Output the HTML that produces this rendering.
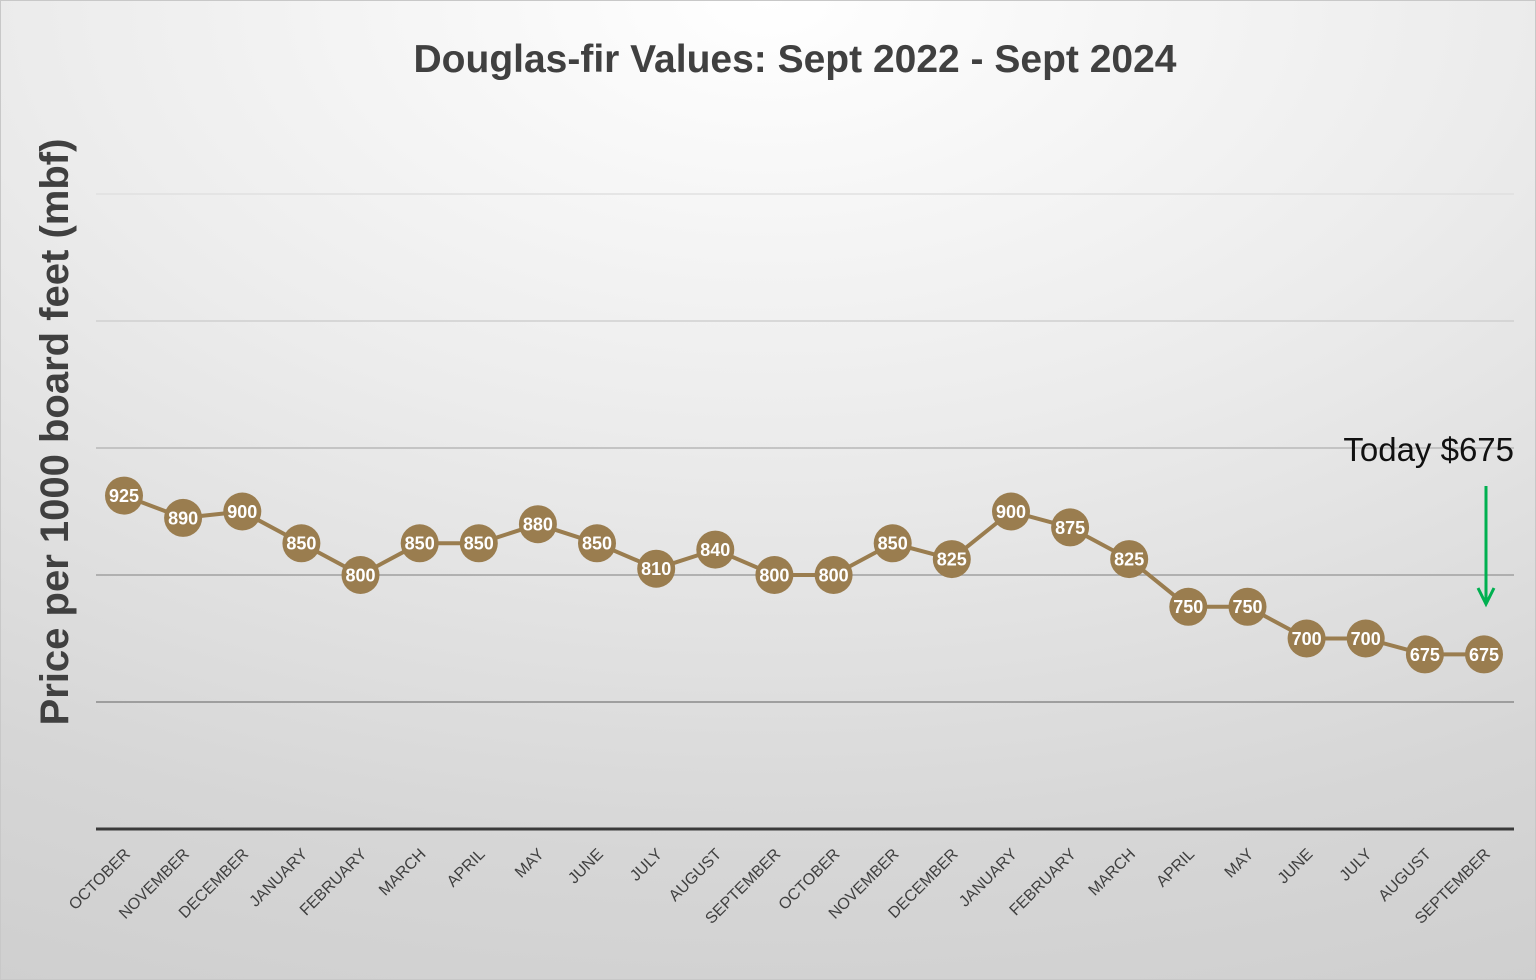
<!DOCTYPE html>
<html><head><meta charset="utf-8"><style>
html,body{margin:0;padding:0;width:1536px;height:980px;overflow:hidden}
body{background:radial-gradient(ellipse 120% 110% at 50% 0%,#ffffff 0%,#ececec 40%,#d6d6d6 80%,#cfcfcf 100%);font-family:"Liberation Sans",sans-serif}
svg{position:absolute;left:0;top:0}
</style></head><body>
<svg width="1536" height="980" viewBox="0 0 1536 980" xmlns="http://www.w3.org/2000/svg">
<rect x="0.5" y="0.5" width="1535" height="979" fill="none" stroke="#c8c8c8"/>
<text x="795" y="72" text-anchor="middle" font-size="39" font-weight="bold" fill="#404040">Douglas-fir Values: Sept 2022 - Sept 2024</text>
<text transform="translate(68,432) rotate(-90)" text-anchor="middle" font-size="40" font-weight="bold" fill="#404040">Price per 1000 board feet (mbf)</text>
<g stroke-width="1.5">
<line x1="96" y1="194" x2="1514" y2="194" stroke="#e0e0e0"/>
<line x1="96" y1="321" x2="1514" y2="321" stroke="#cfcfcf"/>
<line x1="96" y1="448" x2="1514" y2="448" stroke="#b8b8b8"/>
<line x1="96" y1="575" x2="1514" y2="575" stroke="#a0a0a0"/>
<line x1="96" y1="702" x2="1514" y2="702" stroke="#8a8a8a"/>
</g>
<line x1="96" y1="829" x2="1514" y2="829" stroke="#3a3a3a" stroke-width="3"/>
<polyline fill="none" stroke="#9a7d4f" stroke-width="4" stroke-linejoin="round" points="124,495.6 183.1,517.9 242.3,511.5 301.4,543.3 360.5,575 419.7,543.3 478.8,543.3 537.9,524.2 597,543.3 656.2,568.7 715.3,549.6 774.4,575 833.6,575 892.7,543.3 951.8,559.1 1011,511.5 1070.1,527.4 1129.2,559.1 1188.3,606.8 1247.5,606.8 1306.6,638.5 1365.7,638.5 1424.9,654.4 1484,654.4"/>
<g fill="#9a7d4f">
<circle cx="124" cy="495.6" r="19"/><circle cx="183.1" cy="517.9" r="19"/><circle cx="242.3" cy="511.5" r="19"/><circle cx="301.4" cy="543.3" r="19"/><circle cx="360.5" cy="575" r="19"/><circle cx="419.7" cy="543.3" r="19"/><circle cx="478.8" cy="543.3" r="19"/><circle cx="537.9" cy="524.2" r="19"/><circle cx="597" cy="543.3" r="19"/><circle cx="656.2" cy="568.7" r="19"/><circle cx="715.3" cy="549.6" r="19"/><circle cx="774.4" cy="575" r="19"/><circle cx="833.6" cy="575" r="19"/><circle cx="892.7" cy="543.3" r="19"/><circle cx="951.8" cy="559.1" r="19"/><circle cx="1011" cy="511.5" r="19"/><circle cx="1070.1" cy="527.4" r="19"/><circle cx="1129.2" cy="559.1" r="19"/><circle cx="1188.3" cy="606.8" r="19"/><circle cx="1247.5" cy="606.8" r="19"/><circle cx="1306.6" cy="638.5" r="19"/><circle cx="1365.7" cy="638.5" r="19"/><circle cx="1424.9" cy="654.4" r="19"/><circle cx="1484" cy="654.4" r="19"/>
</g>
<g fill="#ffffff" font-size="18" font-weight="bold" text-anchor="middle">
<text x="124" y="502">925</text><text x="183.1" y="524.3">890</text><text x="242.3" y="517.9">900</text><text x="301.4" y="549.7">850</text><text x="360.5" y="581.4">800</text><text x="419.7" y="549.7">850</text><text x="478.8" y="549.7">850</text><text x="537.9" y="530.6">880</text><text x="597" y="549.7">850</text><text x="656.2" y="575.1">810</text><text x="715.3" y="556">840</text><text x="774.4" y="581.4">800</text><text x="833.6" y="581.4">800</text><text x="892.7" y="549.7">850</text><text x="951.8" y="565.5">825</text><text x="1011" y="517.9">900</text><text x="1070.1" y="533.8">875</text><text x="1129.2" y="565.5">825</text><text x="1188.3" y="613.2">750</text><text x="1247.5" y="613.2">750</text><text x="1306.6" y="644.9">700</text><text x="1365.7" y="644.9">700</text><text x="1424.9" y="660.8">675</text><text x="1484" y="660.8">675</text>
</g>
<g fill="#404040" font-size="16" text-anchor="end">
<text transform="translate(131,855) rotate(-45)">OCTOBER</text>
<text transform="translate(190.1,855) rotate(-45)">NOVEMBER</text>
<text transform="translate(249.3,855) rotate(-45)">DECEMBER</text>
<text transform="translate(308.4,855) rotate(-45)">JANUARY</text>
<text transform="translate(367.5,855) rotate(-45)">FEBRUARY</text>
<text transform="translate(426.7,855) rotate(-45)">MARCH</text>
<text transform="translate(485.8,855) rotate(-45)">APRIL</text>
<text transform="translate(544.9,855) rotate(-45)">MAY</text>
<text transform="translate(604,855) rotate(-45)">JUNE</text>
<text transform="translate(663.2,855) rotate(-45)">JULY</text>
<text transform="translate(722.3,855) rotate(-45)">AUGUST</text>
<text transform="translate(781.4,855) rotate(-45)">SEPTEMBER</text>
<text transform="translate(840.6,855) rotate(-45)">OCTOBER</text>
<text transform="translate(899.7,855) rotate(-45)">NOVEMBER</text>
<text transform="translate(958.8,855) rotate(-45)">DECEMBER</text>
<text transform="translate(1018,855) rotate(-45)">JANUARY</text>
<text transform="translate(1077.1,855) rotate(-45)">FEBRUARY</text>
<text transform="translate(1136.2,855) rotate(-45)">MARCH</text>
<text transform="translate(1195.3,855) rotate(-45)">APRIL</text>
<text transform="translate(1254.5,855) rotate(-45)">MAY</text>
<text transform="translate(1313.6,855) rotate(-45)">JUNE</text>
<text transform="translate(1372.7,855) rotate(-45)">JULY</text>
<text transform="translate(1431.9,855) rotate(-45)">AUGUST</text>
<text transform="translate(1491,855) rotate(-45)">SEPTEMBER</text>
</g>
<text x="1514" y="461" text-anchor="end" font-size="33" fill="#111">Today $675</text>
<line x1="1486" y1="486" x2="1486" y2="604" stroke="#00b050" stroke-width="3"/>
<polyline points="1478,588 1486,604 1494,588" fill="none" stroke="#00b050" stroke-width="3"/>
</svg>
</body></html>
